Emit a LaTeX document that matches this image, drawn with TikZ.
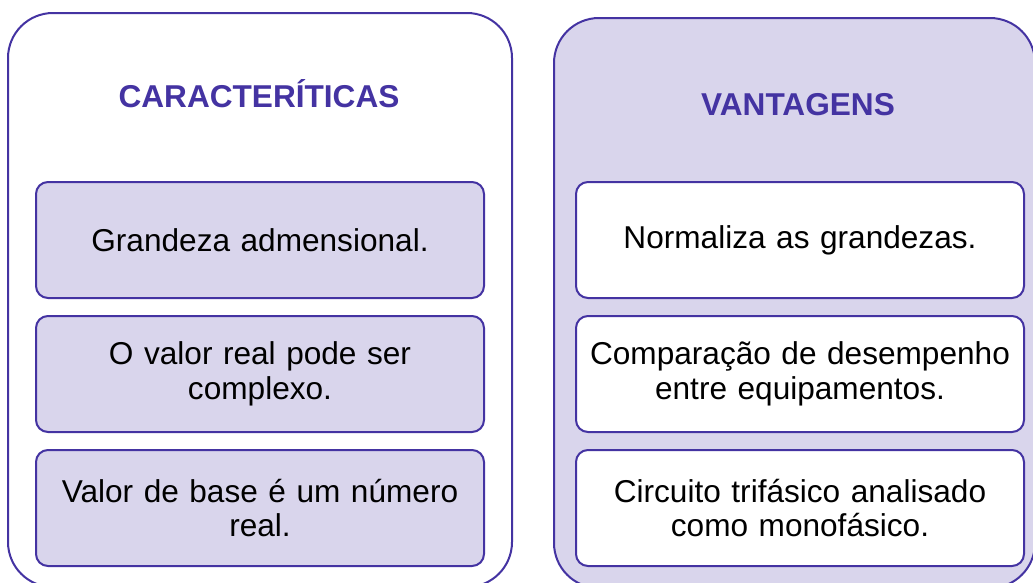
\documentclass[tikz,border=0pt]{standalone}
\usepackage{fontspec}
\setmainfont{Liberation Sans}
\definecolor{edge}{RGB}{68,51,162}
\definecolor{lav}{RGB}{217,213,236}
\tikzset{
  outerbox/.style={draw=edge, line width=2pt, rounded corners=45pt},
  itembox/.style={draw=edge, line width=2pt, rounded corners=12pt,
    minimum width=448pt, minimum height=116pt, inner sep=0pt,
    text width=440pt, align=center,
    font=\fontsize{31.6}{34.5}\selectfont, text=black},
  titletext/.style={font=\fontsize{31.6}{34}\selectfont\bfseries, text=edge, anchor=base}
}
\begin{document}
\begin{tikzpicture}[x=1pt,y=-1pt]
\useasboundingbox (0,0) rectangle (1033,582);
\begin{scope}
\clip (0,0) rectangle (1033,582);
\draw[outerbox, fill=white] (8,13) rectangle (512,587);
\draw[outerbox, fill=lav] (554,18) rectangle (1035,588);
\end{scope}
\node[titletext] (t1) at (259,107) {CARACTERÍTICAS};
\node[titletext] (t2) at (798,115) {VANTAGENS};
\node[itembox, fill=lav] (a1) at (260,240) {Grandeza admensional.};
\node[itembox, fill=lav] (a2) at (260,374) {O valor real pode ser\\complexo.};
\node[itembox, fill=lav] (a3) at (260,508) {Valor de base é um número\\real.};
\node[itembox, fill=white] (b1) at (800,240) {Normaliza as grandezas.};
\node[itembox, fill=white] (b2) at (800,374) {Comparação de desempenho\\entre equipamentos.};
\node[itembox, fill=white] (b3) at (800,508) {Circuito trifásico analisado\\como monofásico.};
\end{tikzpicture}
\end{document}
